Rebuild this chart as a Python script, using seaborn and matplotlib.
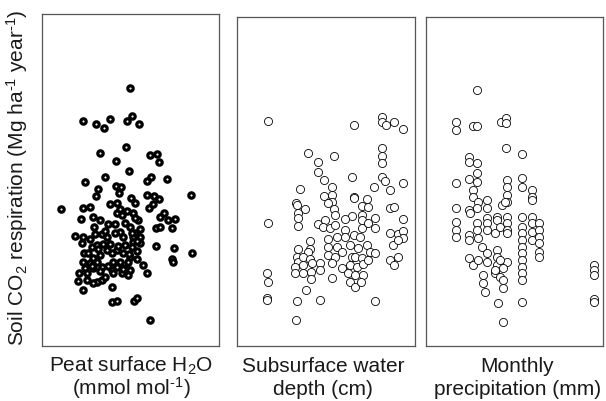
import matplotlib
matplotlib.use("Agg")
import matplotlib.pyplot as plt
import pandas as pd
import seaborn as sns

# panel 1: peat surface H2O (mmol mol-1) vs soil CO2 respiration
peat_h2o = [
    27.0, 12.8, 16.7, 19.2, 21.0, 26.0, 27.5, 29.6, 17.9, 25.8, 22.9, 33.0, 35.2, 35.8, 26.7,
    13.5, 19.6, 32.0, 33.3, 38.2, 45.2, 17.5, 16.7, 22.8, 24.3, 23.7, 6.2, 13.0, 15.0, 21.0,
    23.2, 27.2, 28.5, 32.0, 34.2, 35.7, 32.8, 34.0, 12.3, 16.0, 18.0, 23.0, 24.5, 28.0, 29.5,
    36.0, 37.2, 40.5, 38.5, 39.5, 34.8, 36.0, 16.2, 20.5, 22.5, 25.5, 27.0, 30.0, 24.0, 28.5,
    10.5, 13.0, 15.0, 16.5, 18.5, 20.0, 25.0, 28.0, 30.0, 27.8, 12.5, 15.5, 17.0, 19.0, 21.0,
    23.0, 25.5, 27.5, 30.0, 34.8, 40.2, 45.5, 13.2, 16.0, 18.0, 20.0, 21.5, 25.0, 27.0, 29.2,
    39.5, 39.8, 13.0, 15.0, 17.0, 22.0, 24.0, 26.5, 29.0, 13.5, 16.0, 18.5, 21.5, 23.0, 25.5,
    27.0, 31.0, 32.0, 11.8, 14.0, 22.0, 24.5, 26.5, 11.5, 14.0, 17.0, 18.5, 19.5, 13.0, 16.0,
    21.5, 21.5, 23.0, 28.2, 29.2, 33.0,
    # extra overlapping points in the dense core
    24.0, 26.0, 28.5, 22.5, 19.5, 17.5, 14.5, 26.8, 29.0, 23.5, 20.5, 18.0, 15.5, 25.0, 27.5,
]
resp_peat = [
    77.3, 67.6, 66.6, 65.3, 68.0, 67.5, 69.1, 66.7, 58.0, 59.8, 55.4, 57.2, 57.6, 55.1, 52.5,
    49.2, 50.8, 49.6, 50.8, 50.1, 45.2, 47.0, 45.0, 48.0, 47.6, 45.8, 41.0, 41.3, 41.8, 42.6,
    42.8, 44.3, 42.8, 45.2, 45.1, 44.1, 41.5, 42.6, 38.0, 38.6, 37.8, 39.8, 39.3, 39.8, 37.8,
    38.8, 39.8, 38.2, 37.8, 35.5, 35.5, 35.8, 35.8, 36.6, 36.6, 36.8, 35.8, 35.0, 34.3, 33.8,
    33.0, 32.8, 32.0, 33.6, 33.6, 32.8, 32.8, 32.6, 32.8, 31.3, 30.8, 29.8, 30.3, 30.6, 30.6,
    28.8, 30.3, 29.8, 30.8, 30.1, 29.4, 27.9, 27.8, 26.3, 27.3, 28.8, 27.8, 27.8, 26.8, 28.6,
    26.0, 25.3, 25.3, 24.8, 25.3, 25.3, 25.3, 25.3, 26.0, 23.3, 23.3, 23.8, 22.8, 23.8, 23.3,
    22.8, 24.3, 21.8, 21.8, 21.8, 22.0, 21.8, 21.3, 19.5, 19.8, 19.3, 19.8, 20.6, 16.8, 18.8,
    17.6, 13.3, 13.6, 13.6, 14.3, 7.8,
    41.0, 40.5, 38.5, 34.0, 34.5, 29.0, 28.0, 27.5, 31.5, 30.0, 24.0, 22.5, 24.0, 23.0, 34.0,
]

# panel 2: subsurface water depth (cm)
water_depth = [
    10.0, 35.8, 44.0, 44.0, 45.2, 47.6, 50.3, 22.0, 29.7, 44.0, 44.0, 44.0, 25.0, 25.0, 26.8,
    35.0, 44.0, 45.0, 46.5, 50.3, 41.8, 19.5, 29.0, 29.0, 26.8, 29.0, 27.8, 35.8, 35.8, 39.5,
    38.0, 39.8, 46.5, 47.8, 18.2, 18.5, 21.0, 29.7, 30.0, 35.0, 38.0, 33.0, 42.0, 50.5, 19.0,
    19.0, 19.0, 10.0, 25.0, 27.0, 26.5, 28.5, 30.0, 38.0, 38.0, 40.0, 42.0, 33.0, 35.8, 37.5,
    46.5, 49.0, 50.5, 50.5, 47.5, 48.8, 22.5, 19.0, 22.5, 22.0, 28.0, 30.5, 33.0, 28.0, 30.5,
    34.5, 37.0, 39.5, 40.5, 18.5, 19.0, 20.5, 22.5, 25.5, 28.0, 30.0, 32.0, 35.0, 36.0, 38.0,
    42.0, 46.5, 49.0, 47.8, 18.0, 20.5, 23.0, 25.5, 29.0, 32.0, 34.5, 36.5, 38.5, 40.0, 18.0,
    20.5, 22.8, 22.8, 29.2, 34.0, 36.0, 38.5, 9.5, 10.0, 34.5, 36.0, 37.8, 21.2, 9.5, 9.5,
    18.7, 25.5, 42.0, 18.3,
]
resp_depth = [
    67.6, 66.3, 68.8, 67.3, 66.3, 67.3, 65.1, 57.8, 57.1, 59.5, 57.1, 54.8, 55.1, 52.1, 49.8,
    50.6, 50.6, 49.5, 46.8, 49.0, 47.8, 47.1, 47.6, 45.3, 45.1, 43.3, 42.8, 44.8, 44.3, 44.1,
    42.0, 41.6, 41.3, 41.6, 43.0, 42.3, 41.0, 41.0, 39.3, 39.1, 39.3, 38.1, 38.3, 38.0, 39.8,
    38.3, 36.0, 37.0, 36.6, 37.8, 35.6, 35.3, 36.3, 37.8, 35.5, 36.8, 35.5, 34.8, 33.3, 32.8,
    33.8, 33.5, 34.6, 32.3, 30.3, 31.8, 31.6, 29.1, 29.1, 28.3, 32.0, 32.8, 32.8, 29.8, 29.8,
    30.3, 29.3, 30.3, 28.3, 26.8, 25.3, 26.8, 26.0, 24.8, 27.3, 26.8, 28.3, 26.8, 26.8, 26.3,
    27.8, 25.8, 26.8, 24.3, 23.8, 24.3, 24.8, 22.8, 24.8, 23.3, 24.3, 23.8, 24.5, 25.8, 22.0,
    21.8, 22.3, 20.1, 20.5, 21.8, 21.3, 21.3, 21.8, 19.2, 19.1, 17.6, 19.3, 16.8, 14.3, 13.8,
    13.4, 13.8, 13.6, 7.8,
]

# panel 3: monthly precipitation (mm)
precip = [
    85, 54, 54, 80, 85, 121.5, 129, 129, 129, 153.5, 73.5, 73.5, 85, 85, 73.5, 85, 54,
    130, 130, 130, 130, 153.5, 153.5, 167.5, 167.5, 167.5, 80, 80, 87.5, 100, 100, 85, 73.5,
    75, 54, 122.5, 127.5, 54, 54, 54, 73.5, 73.5, 85, 85, 100, 100, 100, 87.5, 92.5, 112.5,
    115, 115, 120, 130, 130, 130, 130, 153.5, 153.5, 153.5, 153.5, 153.5, 153.5, 153.5, 153.5,
    153.5, 153.5, 167.5, 167.5, 167.5, 167.5, 178.5, 178.5, 178.5, 178.5, 178.5, 178.5, 73.5,
    80, 87.5, 100, 100, 95, 95, 97.5, 115, 115, 115, 112.5, 120, 125, 125, 130, 125, 120,
    112.5, 116.5, 153.5, 125, 261, 261, 261, 261, 261,
]
resp_precip = [
    76.8, 67.1, 64.8, 66.1, 66.1, 67.3, 68.3, 66.8, 59.3, 57.6, 56.8, 55.3, 55.0, 52.0, 50.1,
    49.3, 48.8, 49.8, 47.6, 45.3, 43.3, 50.3, 47.6, 46.8, 44.8, 43.8, 46.8, 44.8, 43.3, 43.8,
    41.3, 41.3, 40.8, 39.8, 41.3, 42.3, 43.3, 37.3, 34.8, 32.8, 33.3, 31.8, 36.8, 34.8, 38.3,
    36.8, 34.8, 32.3, 29.8, 33.8, 38.8, 37.8, 35.8, 38.8, 36.8, 34.8, 33.8, 38.8, 35.8, 33.8,
    31.8, 29.8, 27.8, 25.8, 23.8, 21.8, 19.8, 38.8, 36.8, 34.3, 31.8, 36.8, 34.8, 32.8, 30.8,
    28.3, 26.8, 26.3, 24.3, 25.8, 27.8, 25.3, 21.3, 18.8, 16.3, 28.8, 26.8, 24.3, 21.8, 20.8,
    19.8, 17.3, 25.3, 23.3, 25.8, 22.8, 13.0, 13.3, 7.3, 24.3, 22.8, 21.3, 14.0, 13.3,
]

x_label_lines = [
    ("Peat surface H$\\mathregular{_2}$O", "(mmol mol$\\mathregular{^{\\text{-}1}}$)"),
    ("Subsurface water", "depth (cm)"),
    ("Monthly", "precipitation (mm)"),
]
y_label = ("Soil CO$\\mathregular{_2}$ respiration "
           "(Mg ha$\\mathregular{^{\\text{-}1}}$ year$\\mathregular{^{\\text{-}1}}$)")

sns.set_style("white")
plt.rcParams["font.family"] = ["Liberation Sans", "DejaVu Sans"]
plt.rcParams["mathtext.fontset"] = "custom"
plt.rcParams["mathtext.rm"] = "Liberation Sans"
plt.rcParams["mathtext.it"] = "Liberation Sans:italic"
plt.rcParams["mathtext.bf"] = "Liberation Sans:bold"

panels = [
    (pd.DataFrame({"x": peat_h2o, "y": resp_peat}), (0.6, 53.7), (0.0, 99.6), [0.0693, 0.1372, 0.2921, 0.8279]),
    (pd.DataFrame({"x": water_depth, "y": resp_depth}), (0.6, 54.0), (0.0, 98.7), [0.3911, 0.1372, 0.2937, 0.8204]),
    (pd.DataFrame({"x": precip, "y": resp_precip}), (9.0, 274.5), (0.0, 98.7), [0.7030, 0.1372, 0.2921, 0.8204]),
]
label_x = [0.2170, 0.5330, 0.8540]

fig = plt.figure(figsize=(6.06, 4.01), dpi=100)
text_color = "#1a1a1a"
fs = 15

for i, (df, xlim, ylim, pos) in enumerate(panels):
    ax = fig.add_axes(pos)
    if i == 0:
        sns.scatterplot(data=df, x="x", y="y", ax=ax, marker="o", s=15,
                        facecolor="white", edgecolor="black", linewidth=2.3)
    else:
        sns.scatterplot(data=df, x="x", y="y", ax=ax, marker="o", s=34,
                        facecolor="white", edgecolor="black", linewidth=0.6)
    ax.set_xlim(*xlim)
    ax.set_ylim(*ylim)
    ax.set_xticks([])
    ax.set_yticks([])
    ax.set_xlabel("")
    ax.set_ylabel("")
    for sp in ax.spines.values():
        sp.set_color("#555555")
        sp.set_linewidth(0.9)
    line1, line2 = x_label_lines[i]
    fig.text(label_x[i], 0.0725, line1, ha="center", va="baseline", fontsize=fs, color=text_color)
    fig.text(label_x[i], 0.0150, line2, ha="center", va="baseline", fontsize=fs, color=text_color)

fig.text(0.028, 0.556, y_label, rotation=90, ha="center", va="center", fontsize=fs, color=text_color)

fig.savefig("out.png", dpi=100)
